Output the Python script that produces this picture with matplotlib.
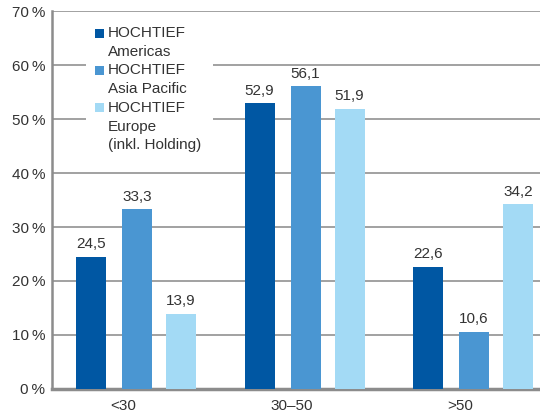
import matplotlib.pyplot as plt
from matplotlib.patches import Rectangle
import numpy as np

plt.rcParams['font.family'] = ['Liberation Sans', 'DejaVu Sans']

categories = ['<30', '30–50', '>50']
series_names = ['HOCHTIEF\nAmericas', 'HOCHTIEF\nAsia Pacific', 'HOCHTIEF\nEurope\n(inkl. Holding)']
americas = [24.5, 52.9, 22.6]
asia_pacific = [33.3, 56.1, 10.6]
europe = [13.9, 51.9, 34.2]
y_ticks = [0, 10, 20, 30, 40, 50, 60, 70]

colors = ['#0057A3', '#4A96D2', '#A3DAF5']
text_color = '#333333'
grid_color = '#9a9a9a'
fs = 11

W, H = 540, 418
fig = plt.figure(figsize=(W / 100, H / 100), dpi=100)
ax_l, ax_r, ax_b, ax_t = 52, 540, 389, 11
ax = fig.add_axes([ax_l / W, (H - ax_b) / H, (ax_r - ax_l) / W, (ax_b - ax_t) / H])

unit = 168.5  # px per category
first = 137.0  # px of first group centre
x = np.arange(len(categories))
width = 30 / unit
offsets = [-46 / unit, 0, 44 / unit]

for vals, off, c in zip([americas, asia_pacific, europe], offsets, colors):
    bars = ax.bar(x + off, vals, width=width, color=c, zorder=3)
    for b, v in zip(bars, vals):
        ax.annotate(f'{v:.1f}'.replace('.', ','), (b.get_x() + b.get_width() / 2, v),
                    xytext=(0, 4), textcoords='offset points', ha='center', va='bottom',
                    fontsize=fs, color=text_color, zorder=4)

ax.set_xlim((ax_l - first) / unit, (ax_r - first) / unit)
ax.set_ylim(0, 70)
ax.set_yticks(y_ticks)
ax.set_yticklabels([f'{t}\u2009%' for t in y_ticks])
ax.set_xticks(x - 14 / unit)
ax.set_xticklabels(categories)
ax.tick_params(axis='both', length=0, labelsize=fs, labelcolor=text_color)
ax.tick_params(axis='y', pad=5)
ax.tick_params(axis='x', pad=7)
ax.yaxis.grid(True, color=grid_color, linewidth=1.3, zorder=0)
ax.set_axisbelow(True)
for s in ['top', 'right']:
    ax.spines[s].set_visible(False)
ax.spines['left'].set_color('#8c8c8c')
ax.spines['left'].set_linewidth(1.8)
ax.spines['bottom'].set_color('#8c8c8c')
ax.spines['bottom'].set_linewidth(2.5)


def px(xp, yp):
    return (xp - ax_l) / (ax_r - ax_l), (ax_b - yp) / (ax_b - ax_t)


# legend drawn by hand
x0, y0 = px(86, 158)
x1, y1 = px(213, 22)
ax.add_patch(Rectangle((x0, y0), x1 - x0, y1 - y0, transform=ax.transAxes,
                       facecolor='white', edgecolor='none', zorder=5))
line_y = 33.0
step = 18.7
for name, c in zip(series_names, colors):
    sx, sy = px(95, line_y + 4.5)
    sw = 9 / (ax_r - ax_l)
    sh = 9 / (ax_b - ax_t)
    ax.add_patch(Rectangle((sx, sy), sw, sh, transform=ax.transAxes,
                           facecolor=c, edgecolor='none', zorder=6))
    for line in name.split('\n'):
        tx, ty = px(108, line_y)
        ax.text(tx, ty, line, transform=ax.transAxes, ha='left', va='center',
                fontsize=fs, color=text_color, zorder=7)
        line_y += step

fig.savefig('out.png', dpi=100)
